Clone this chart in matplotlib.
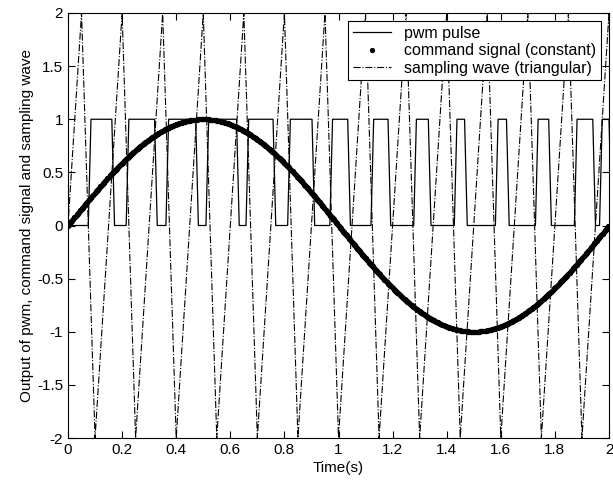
# モジュールのインポート
import numpy as np
import matplotlib.pyplot as plt
from matplotlib.ticker import FormatStrFormatter

plt.rcParams['font.family'] = ['Liberation Sans', 'DejaVu Sans']
plt.rcParams['axes.unicode_minus'] = False

# 指令信号 (正弦波) のパラメータ
command_amplitude = 1.0
command_freq = 0.5  # [Hz]

# 三角波 (キャリア) の山・谷の時刻 [s] と振幅
peak_times = [-0.10, 0.05, 0.20, 0.35, 0.50, 0.65, 0.80, 0.95,
	1.10, 1.25, 1.40, 1.55, 1.70, 1.85, 2.00]
trough_times = [-0.05, 0.10, 0.25, 0.40, 0.55, 0.70, 0.85, 1.00,
	1.15, 1.30, 1.45, 1.60, 1.75, 1.90, 2.05]
carrier_amplitude = 2.0

# PWM パルスが 1 になる区間 [s]
pulse_on = [0.085, 0.225, 0.372, 0.520, 0.668, 0.822, 0.978,
	1.130, 1.288, 1.438, 1.590, 1.738, 1.882, 1.975]
pulse_off = [0.162, 0.320, 0.472, 0.623, 0.758, 0.902, 1.034,
	1.183, 1.332, 1.466, 1.621, 1.777, 1.940, 2.000]
sample_step = 0.01  # サンプリング間隔 [s]


# 関数の定義
def pwm_polyline(on_list, off_list, step):
	"""
	function : パルスの区間からPWM波形の折れ線を作る関数
	:return : t, v
	"""
	t = [0.0]
	v = [0.0]
	for on, off in zip(on_list, off_list):
		t += [on - step, on, off, off + step]
		v += [0.0, 1.0, 1.0, 0.0]
	return np.array(t), np.array(v)


def carrier_polyline(peaks, troughs, amp):
	"""
	function : 山・谷の時刻から三角波の折れ線を作る関数
	:return : t, v
	"""
	points = [(p, amp) for p in peaks] + [(q, -amp) for q in troughs]
	points.sort()
	t = np.array([p[0] for p in points])
	v = np.array([p[1] for p in points])
	return t, v


# 各波形の計算
t_cmd = np.arange(0, 2.0 + 1e-9, 0.002)
v_cmd = command_amplitude * np.sin(2 * np.pi * command_freq * t_cmd)
t_pwm, v_pwm = pwm_polyline(pulse_on, pulse_off, sample_step)
t_tri, v_tri = carrier_polyline(peak_times, trough_times, carrier_amplitude)

# グラフの作成
fig = plt.figure(figsize=(6.13, 4.84), dpi=100)
ax = fig.add_axes([68 / 613, 1 - 438 / 484, 541 / 613, 425 / 484])

ax.plot(t_pwm, v_pwm, '-', color='black', lw=0.9, label='pwm pulse')
ax.plot(t_cmd, v_cmd, '.', color='black', markersize=5.5, label='command signal (constant)')
ax.plot(t_tri, v_tri, '-.', color='black', lw=0.8, label='sampling wave (triangular)')

# 軸の設定
ax.set_xlim(0, 2)
ax.set_ylim(-2, 2)
ax.set_xticks(np.arange(0, 2.01, 0.2))
ax.set_yticks(np.arange(-2, 2.01, 0.5))
ax.xaxis.set_major_formatter(FormatStrFormatter('%g'))
ax.yaxis.set_major_formatter(FormatStrFormatter('%g'))
ax.tick_params(direction='in', length=5, width=0.8, top=True, right=True, labelsize=11)
for s in ax.spines.values():
	s.set_linewidth(0.8)
ax.set_xlabel('Time(s)', fontsize=11, labelpad=3)
ax.set_ylabel('Output of pwm, command signal and sampling wave', fontsize=11, labelpad=2)

# 凡例の表示
leg = ax.legend(loc='upper right', numpoints=1, fontsize=11.5, fancybox=False,
	edgecolor='black', framealpha=1, borderaxespad=0.5, handlelength=2.4,
	labelspacing=0.15, borderpad=0.3)
leg.get_frame().set_linewidth(0.8)

fig.savefig('out.png', dpi=100)
